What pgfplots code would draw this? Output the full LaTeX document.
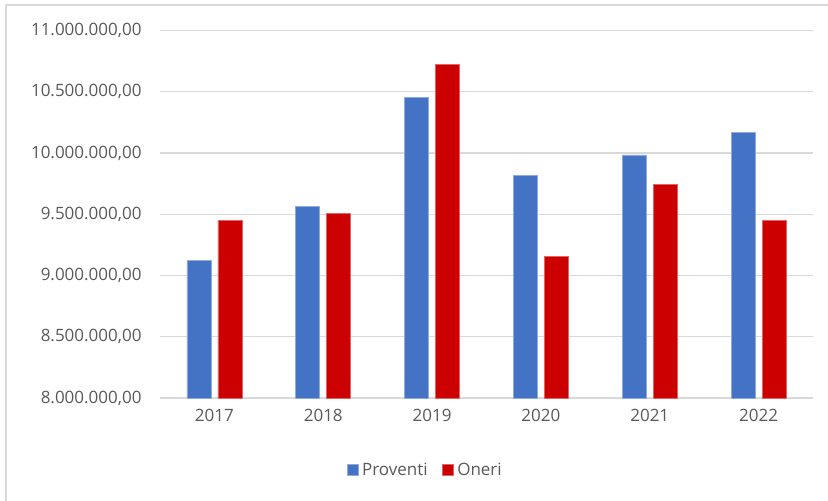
\documentclass[border=0pt]{standalone}
\usepackage{pgfplots}
\pgfplotsset{compat=1.18}
\usepackage{fontspec}
\setmainfont{Open Sans}
\definecolor{txt}{HTML}{595959}
\definecolor{gridc}{HTML}{D9D9D9}
\definecolor{pblue}{HTML}{4472C4}
\definecolor{ored}{HTML}{CC0000}
\begin{document}
\begin{tikzpicture}[x=1pt,y=1pt]
\useasboundingbox (0,0) rectangle (828,501);
\draw[gridc,line width=1.2pt] (6,0) -- (6,496) -- (828,496);
\begin{axis}[
  at={(160pt,103pt)}, anchor=south west,
  scale only axis, width=653pt, height=367.5pt,
  ybar, bar width=24pt,
  xmin=-0.5, xmax=5.5,
  ymin=8000000, ymax=11000000,
  ytick={8000000,8500000,...,11000000},
  xtick=data,
  xticklabels={2017,2018,2019,2020,2021,2022},
  scaled y ticks=false,
  /pgf/number format/assume math mode=true,
  ticklabel style={font=\fontsize{17}{19}\selectfont, text=txt},
  yticklabel style={xshift=-15pt,/pgf/number format/.cd,fixed,fixed zerofill,precision=2,1000 sep={.},dec sep={,}},
  ymajorgrids, xmajorgrids=false, grid style={draw=gridc,line width=1.3pt},
  axis x line*=bottom, axis y line*=left,
  x axis line style={draw=gridc,line width=1.3pt,-},
  y axis line style={draw=none},
  major tick length=0pt,
  xticklabel style={yshift=-8pt},
  legend columns=2,
  legend style={at={(0.406,-0.196)}, anchor=center, draw=none, fill=none,
    font=\fontsize{17}{19}\selectfont, text=txt,
    /tikz/every odd column/.append style={column sep=2pt},
    /tikz/every even column/.append style={column sep=12pt}},
  legend image code/.code={\fill[#1] (0pt,-5pt) rectangle (11pt,6pt);},
]
\addplot[fill=pblue, draw=pblue!60!white, line width=0.6pt, bar shift=-15.5pt]
  coordinates {(0,9122000) (1,9563000) (2,10453000) (3,9816000) (4,9985000) (5,10171000)};
\addplot[fill=ored, draw=ored!60!white, line width=0.6pt, bar shift=15.5pt]
  coordinates {(0,9452000) (1,9506000) (2,10726000) (3,9154000) (4,9746000) (5,9452000)};
\legend{Proventi,Oneri}
\end{axis}
\end{tikzpicture}
\end{document}
